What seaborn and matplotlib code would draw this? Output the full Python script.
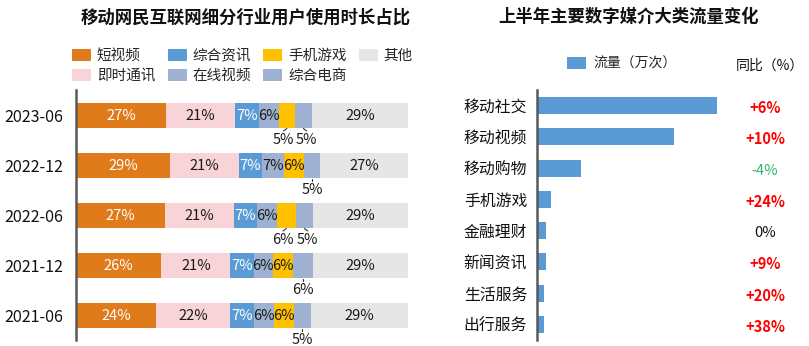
import numpy as np
import matplotlib
matplotlib.use("Agg")
import matplotlib.pyplot as plt
import seaborn as sns
from matplotlib.patches import Patch
from matplotlib.transforms import blended_transform_factory

# ---------------- data ----------------
periods = ["2023-06", "2022-12", "2022-06", "2021-12", "2021-06"]
series_names = ["短视频", "即时通讯", "综合资讯", "在线视频", "手机游戏", "综合电商", "其他"]
short_video = [27, 29, 27, 26, 24]
instant_msg = [21, 21, 21, 21, 22]
news_info = [7, 7, 7, 7, 7]
online_video = [6, 7, 6, 6, 6]
mobile_game = [5, 6, 6, 6, 6]
ecommerce = [5, 5, 5, 6, 5]
others = [29, 27, 29, 29, 29]

media_cats = ["移动社交", "移动视频", "移动购物", "手机游戏", "金融理财", "新闻资讯", "生活服务", "出行服务"]
media_flow = [180, 137, 44, 14, 9, 8.5, 7, 6.5]
media_yoy = ["+6%", "+10%", "-4%", "+24%", "0%", "+9%", "+20%", "+38%"]

# ---------------- style ----------------
sns.set_theme(style="white")
plt.rcParams["font.family"] = ["Noto Sans CJK SC", "DejaVu Sans"]

colors = ["#E07B1C", "#F8D3D8", "#5B9BD5", "#9FB1D0", "#FFC000", "#9FB1D0", "#E6E6E6"]
label_colors = ["white", "#1a1a1a", "white", "#1a1a1a", "#1a1a1a", "#1a1a1a", "#1a1a1a"]
# (row, series) whose labels sit below the bar
outside = {(0, 4), (0, 5), (1, 5), (2, 4), (2, 5), (3, 5), (4, 5)}

W, H = 809, 346
fig = plt.figure(figsize=(W / 100, H / 100), dpi=100)


def px_axes(x0, y0, x1, y1):
    return fig.add_axes([x0 / W, 1 - y1 / H, (x1 - x0) / W, (y1 - y0) / H])


# ---------------- left chart ----------------
ax1 = px_axes(76, 90, 408, 340)
values = np.array([short_video, instant_msg, news_info, online_video,
                   mobile_game, ecommerce, others], dtype=float)
shares = values / values.sum(axis=0) * 100
cum = shares.cumsum(axis=0)

for i in reversed(range(len(series_names))):
    sns.barplot(x=cum[i], y=periods, orient="y", color=colors[i], saturation=1,
                width=0.5, linewidth=0, ax=ax1)

ax1.set_xlim(0, 100)
ax1.set_ylim(4.5, -0.5)
ax1.set_xlabel("")
ax1.set_ylabel("")
ax1.set_xticks([])
for s in ["top", "right", "bottom"]:
    ax1.spines[s].set_visible(False)
ax1.spines["left"].set_color("#595959")
ax1.spines["left"].set_linewidth(1.8)
ax1.tick_params(axis="y", length=0, pad=9, labelsize=11.6, labelcolor="#111111")

for j in range(len(periods)):
    outs = [i for i in range(len(series_names)) if (j, i) in outside]
    for i in range(len(series_names)):
        left = float(cum[i, j] - shares[i, j])
        cx = left + float(shares[i, j]) / 2
        txt = f"{values[i, j]:.0f}%"
        if (j, i) in outside:
            lx = cx
            if len(outs) == 2:
                lx = cx + (-1.0 if i == outs[0] else 1.0)
            ax1.plot([cx, lx], [j + 0.27, j + 0.32], color="#333333", lw=0.8)
            ax1.text(lx, j + 0.49, txt, ha="center", va="center",
                     fontsize=10.5, color="#1a1a1a")
        else:
            ax1.text(cx, j + 0.02, txt, ha="center", va="center",
                     fontsize=10.5, color=label_colors[i])

handles = [Patch(facecolor=c, edgecolor="none") for c in colors]
fig.legend(handles, series_names, ncol=4, loc="upper left",
           bbox_to_anchor=(72 / W, 1 - 49 / H), frameon=False, fontsize=10.5,
           handlelength=1.3, handleheight=0.85, handletextpad=0.4,
           columnspacing=0.85, labelspacing=0.42, borderpad=0, borderaxespad=0)

fig.text(246 / W, 1 - 18 / H, "移动网民互联网细分行业用户使用时长占比",
         ha="center", va="center", fontsize=12.5, fontweight="bold", color="#111111")

# ---------------- right chart ----------------
ax2 = px_axes(537, 90, 737, 340)
sns.barplot(x=media_flow, y=media_cats, orient="y", color="#5B9BD5", saturation=1,
            width=0.55, linewidth=0, ax=ax2)
ax2.set_xlim(0, 200)
ax2.set_ylim(len(media_cats) - 0.5, -0.5)
ax2.set_xlabel("")
ax2.set_ylabel("")
ax2.set_xticks([])
for s in ["top", "right", "bottom"]:
    ax2.spines[s].set_visible(False)
ax2.spines["left"].set_color("#595959")
ax2.spines["left"].set_linewidth(1.8)
ax2.tick_params(axis="y", length=0, pad=7, labelsize=11.4, labelcolor="#111111")

trans = blended_transform_factory(fig.transFigure, ax2.transData)
for j, v in enumerate(media_yoy):
    if v.startswith("+"):
        col, wt = "#FF0000", "bold"
    elif v.startswith("-"):
        col, wt = "#2DB36A", "normal"
    else:
        col, wt = "#111111", "normal"
    ax2.text(765 / W, j + 0.08, v, transform=trans, ha="center", va="center",
             fontsize=10.5, color=col, fontweight=wt)

fig.legend([Patch(facecolor="#5B9BD5", edgecolor="none")], ["流量（万次）"],
           loc="upper left", bbox_to_anchor=(567 / W, 1 - 57 / H), frameon=False,
           fontsize=10, handlelength=1.4, handleheight=1.0, handletextpad=0.5,
           borderpad=0, borderaxespad=0)
fig.text(770 / W, 1 - 66 / H, "同比（%）", ha="center", va="center",
         fontsize=10, color="#111111")

fig.text(629 / W, 1 - 17 / H, "上半年主要数字媒介大类流量变化",
         ha="center", va="center", fontsize=12.5, fontweight="bold", color="#111111")

fig.savefig("out.png", dpi=100)
